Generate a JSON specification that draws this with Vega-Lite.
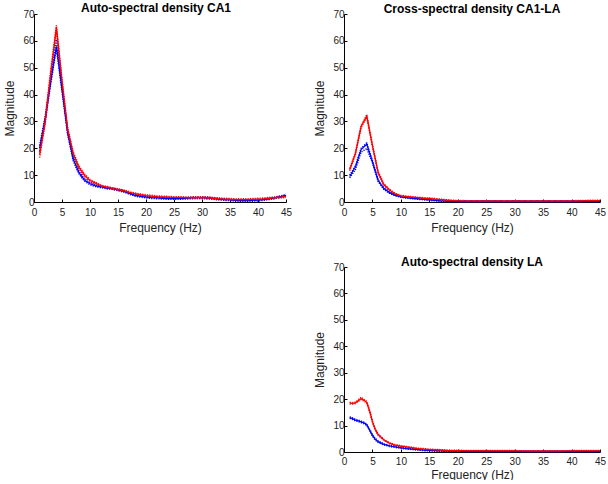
{
 "$schema": "https://vega.github.io/schema/vega-lite/v6.json",
 "padding": {"left": 3, "top": 2, "right": 5, "bottom": 0},
 "background": "white",
 "config": {
  "view": {"stroke": null},
  "font": "Liberation Sans",
  "axis": {"domainColor": "#000", "tickColor": "#000", "tickSize": -3, "labelFontSize": 10, "labelColor": "#222", "titleFontSize": 12, "titleFontWeight": "normal", "titleColor": "#222", "grid": false, "labelPadding": 3, "labelFlush": false, "labelOverlap": false},
  "axisX": {"titlePadding": 5, "labelPadding": 8},
  "axisY": {"titlePadding": 6},
  "title": {"fontSize": 12, "fontWeight": "bold", "color": "#000", "offset": 0},
  "line": {"strokeWidth": 1.3}
 },
 "datasets": {
  "ca1": [
   {"f":1,"g":"blue","m":20,"lo":19,"hi":21},{"f":1,"g":"red","m":17.5,"lo":16.5,"hi":18.5},
   {"f":2,"g":"blue","m":31,"lo":30,"hi":32},{"f":2,"g":"red","m":30,"lo":29,"hi":31},
   {"f":3,"g":"blue","m":45,"lo":44,"hi":46.5},{"f":3,"g":"red","m":48,"lo":47,"hi":49.5},
   {"f":4,"g":"blue","m":58,"lo":57,"hi":60.5},{"f":4,"g":"red","m":65,"lo":64,"hi":65.8},
   {"f":5,"g":"blue","m":42,"lo":41,"hi":43},{"f":5,"g":"red","m":45,"lo":44,"hi":46},
   {"f":6,"g":"blue","m":26,"lo":25,"hi":27},{"f":6,"g":"red","m":27,"lo":26,"hi":28},
   {"f":7,"g":"blue","m":16,"lo":15.3,"hi":16.8},{"f":7,"g":"red","m":18,"lo":17.3,"hi":18.7},
   {"f":8,"g":"blue","m":11,"lo":10.5,"hi":11.6},{"f":8,"g":"red","m":13,"lo":12.4,"hi":13.6},
   {"f":9,"g":"blue","m":8.2,"lo":7.8,"hi":8.7},{"f":9,"g":"red","m":10,"lo":9.5,"hi":10.5},
   {"f":10,"g":"blue","m":6.8,"lo":6.4,"hi":7.2},{"f":10,"g":"red","m":8,"lo":7.6,"hi":8.4},
   {"f":11,"g":"blue","m":6,"lo":5.7,"hi":6.3},{"f":11,"g":"red","m":7,"lo":6.7,"hi":7.3},
   {"f":12,"g":"blue","m":5.6,"lo":5.3,"hi":5.9},{"f":12,"g":"red","m":6,"lo":5.7,"hi":6.3},
   {"f":13,"g":"blue","m":5.2,"lo":4.9,"hi":5.5},{"f":13,"g":"red","m":5.5,"lo":5.2,"hi":5.8},
   {"f":14,"g":"blue","m":5,"lo":4.7,"hi":5.3},{"f":14,"g":"red","m":5,"lo":4.7,"hi":5.3},
   {"f":15,"g":"blue","m":4.5,"lo":4.2,"hi":4.8},{"f":15,"g":"red","m":4.6,"lo":4.3,"hi":4.9},
   {"f":16,"g":"blue","m":4,"lo":3.7,"hi":4.3},{"f":16,"g":"red","m":4.2,"lo":3.9,"hi":4.5},
   {"f":17,"g":"blue","m":3.2,"lo":2.9,"hi":3.5},{"f":17,"g":"red","m":3.6,"lo":3.3,"hi":3.9},
   {"f":18,"g":"blue","m":2.5,"lo":2.2,"hi":2.8},{"f":18,"g":"red","m":3.1,"lo":2.8,"hi":3.4},
   {"f":19,"g":"blue","m":2.1,"lo":1.8,"hi":2.4},{"f":19,"g":"red","m":2.7,"lo":2.4,"hi":3},
   {"f":20,"g":"blue","m":1.8,"lo":1.5,"hi":2.1},{"f":20,"g":"red","m":2.4,"lo":2.1,"hi":2.7},
   {"f":21,"g":"blue","m":1.6,"lo":1.3,"hi":1.9},{"f":21,"g":"red","m":2.2,"lo":1.9,"hi":2.5},
   {"f":22,"g":"blue","m":1.5,"lo":1.2,"hi":1.8},{"f":22,"g":"red","m":2,"lo":1.7,"hi":2.3},
   {"f":23,"g":"blue","m":1.4,"lo":1.1,"hi":1.7},{"f":23,"g":"red","m":1.9,"lo":1.6,"hi":2.2},
   {"f":24,"g":"blue","m":1.3,"lo":1,"hi":1.6},{"f":24,"g":"red","m":1.8,"lo":1.5,"hi":2.1},
   {"f":25,"g":"blue","m":1.3,"lo":1,"hi":1.6},{"f":25,"g":"red","m":1.7,"lo":1.4,"hi":2},
   {"f":26,"g":"blue","m":1.3,"lo":1,"hi":1.6},{"f":26,"g":"red","m":1.7,"lo":1.4,"hi":2},
   {"f":27,"g":"blue","m":1.4,"lo":1.1,"hi":1.7},{"f":27,"g":"red","m":1.6,"lo":1.3,"hi":1.9},
   {"f":28,"g":"blue","m":1.5,"lo":1.2,"hi":1.8},{"f":28,"g":"red","m":1.6,"lo":1.3,"hi":1.9},
   {"f":29,"g":"blue","m":1.6,"lo":1.3,"hi":1.9},{"f":29,"g":"red","m":1.6,"lo":1.3,"hi":2},
   {"f":30,"g":"blue","m":1.6,"lo":1.3,"hi":1.9},{"f":30,"g":"red","m":1.6,"lo":1.3,"hi":2},
   {"f":31,"g":"blue","m":1.5,"lo":1.2,"hi":1.8},{"f":31,"g":"red","m":1.5,"lo":1.2,"hi":1.9},
   {"f":32,"g":"blue","m":1.3,"lo":1,"hi":1.6},{"f":32,"g":"red","m":1.4,"lo":1.1,"hi":1.7},
   {"f":33,"g":"blue","m":1.1,"lo":0.8,"hi":1.4},{"f":33,"g":"red","m":1.2,"lo":0.9,"hi":1.5},
   {"f":34,"g":"blue","m":0.9,"lo":0.6,"hi":1.2},{"f":34,"g":"red","m":1.1,"lo":0.8,"hi":1.4},
   {"f":35,"g":"blue","m":0.8,"lo":0.5,"hi":1.1},{"f":35,"g":"red","m":1,"lo":0.7,"hi":1.3},
   {"f":36,"g":"blue","m":0.6,"lo":0.3,"hi":0.9},{"f":36,"g":"red","m":0.9,"lo":0.6,"hi":1.2},
   {"f":37,"g":"blue","m":0.5,"lo":0.2,"hi":0.8},{"f":37,"g":"red","m":0.9,"lo":0.6,"hi":1.2},
   {"f":38,"g":"blue","m":0.5,"lo":0.2,"hi":0.8},{"f":38,"g":"red","m":0.9,"lo":0.6,"hi":1.2},
   {"f":39,"g":"blue","m":0.6,"lo":0.3,"hi":0.9},{"f":39,"g":"red","m":1,"lo":0.7,"hi":1.3},
   {"f":40,"g":"blue","m":0.7,"lo":0.4,"hi":1},{"f":40,"g":"red","m":1.1,"lo":0.8,"hi":1.4},
   {"f":41,"g":"blue","m":0.9,"lo":0.6,"hi":1.2},{"f":41,"g":"red","m":1.2,"lo":0.9,"hi":1.5},
   {"f":42,"g":"blue","m":1.2,"lo":0.9,"hi":1.5},{"f":42,"g":"red","m":1.4,"lo":1.1,"hi":1.7},
   {"f":43,"g":"blue","m":1.5,"lo":1.2,"hi":1.8},{"f":43,"g":"red","m":1.6,"lo":1.3,"hi":1.9},
   {"f":44,"g":"blue","m":2,"lo":1.7,"hi":2.3},{"f":44,"g":"red","m":1.8,"lo":1.5,"hi":2.1},
   {"f":45,"g":"blue","m":2.5,"lo":2.2,"hi":2.8},{"f":45,"g":"red","m":2,"lo":1.7,"hi":2.3}
  ],
  "cross": [
   {"f":1,"g":"blue","m":9.5,"lo":9,"hi":10},{"f":1,"g":"red","m":12,"lo":11.6,"hi":12.4},
   {"f":2,"g":"blue","m":13,"lo":12,"hi":13.5},{"f":2,"g":"red","m":18,"lo":17.6,"hi":18.4},
   {"f":3,"g":"blue","m":19.5,"lo":18.5,"hi":20},{"f":3,"g":"red","m":28,"lo":27.6,"hi":28.4},
   {"f":4,"g":"blue","m":21.5,"lo":20,"hi":22},{"f":4,"g":"red","m":32,"lo":31.6,"hi":32.5},
   {"f":5,"g":"blue","m":15,"lo":14.5,"hi":15.5},{"f":5,"g":"red","m":21,"lo":20.6,"hi":21.4},
   {"f":6,"g":"blue","m":8,"lo":7.6,"hi":8.4},{"f":6,"g":"red","m":11,"lo":10.6,"hi":11.4},
   {"f":7,"g":"blue","m":5,"lo":4.7,"hi":5.3},{"f":7,"g":"red","m":6.5,"lo":6.2,"hi":6.8},
   {"f":8,"g":"blue","m":3.5,"lo":3.2,"hi":3.8},{"f":8,"g":"red","m":4.5,"lo":4.2,"hi":4.8},
   {"f":9,"g":"blue","m":2.5,"lo":2.3,"hi":2.7},{"f":9,"g":"red","m":3,"lo":2.8,"hi":3.2},
   {"f":10,"g":"blue","m":1.9,"lo":1.7,"hi":2.1},{"f":10,"g":"red","m":2.3,"lo":2.1,"hi":2.5},
   {"f":11,"g":"blue","m":1.6,"lo":1.4,"hi":1.8},{"f":11,"g":"red","m":2,"lo":1.8,"hi":2.2},
   {"f":12,"g":"blue","m":1.4,"lo":1.2,"hi":1.6},{"f":12,"g":"red","m":1.8,"lo":1.6,"hi":2},
   {"f":13,"g":"blue","m":1.2,"lo":1,"hi":1.4},{"f":13,"g":"red","m":1.6,"lo":1.4,"hi":1.8},
   {"f":14,"g":"blue","m":1,"lo":0.8,"hi":1.2},{"f":14,"g":"red","m":1.4,"lo":1.2,"hi":1.6},
   {"f":15,"g":"blue","m":0.8,"lo":0.6,"hi":1},{"f":15,"g":"red","m":1.3,"lo":1.1,"hi":1.5},
   {"f":16,"g":"blue","m":0.6,"lo":0.4,"hi":0.8},{"f":16,"g":"red","m":1.1,"lo":0.9,"hi":1.3},
   {"f":17,"g":"blue","m":0.4,"lo":0.2,"hi":0.6},{"f":17,"g":"red","m":0.9,"lo":0.7,"hi":1.1},
   {"f":18,"g":"blue","m":0.3,"lo":0.1,"hi":0.5},{"f":18,"g":"red","m":0.7,"lo":0.5,"hi":0.9},
   {"f":19,"g":"blue","m":0.2,"lo":0.1,"hi":0.4},{"f":19,"g":"red","m":0.5,"lo":0.3,"hi":0.7},
   {"f":20,"g":"blue","m":0.2,"lo":0.1,"hi":0.4},{"f":20,"g":"red","m":0.4,"lo":0.2,"hi":0.6},
   {"f":22,"g":"blue","m":0.2,"lo":0.1,"hi":0.4},{"f":22,"g":"red","m":0.3,"lo":0.2,"hi":0.5},
   {"f":25,"g":"blue","m":0.2,"lo":0.1,"hi":0.4},{"f":25,"g":"red","m":0.3,"lo":0.2,"hi":0.5},
   {"f":28,"g":"blue","m":0.2,"lo":0.1,"hi":0.4},{"f":28,"g":"red","m":0.3,"lo":0.2,"hi":0.5},
   {"f":30,"g":"blue","m":0.2,"lo":0.1,"hi":0.4},{"f":30,"g":"red","m":0.3,"lo":0.2,"hi":0.5},
   {"f":32,"g":"blue","m":0.2,"lo":0.1,"hi":0.4},{"f":32,"g":"red","m":0.3,"lo":0.2,"hi":0.5},
   {"f":35,"g":"blue","m":0.2,"lo":0.1,"hi":0.4},{"f":35,"g":"red","m":0.3,"lo":0.2,"hi":0.5},
   {"f":38,"g":"blue","m":0.2,"lo":0.1,"hi":0.4},{"f":38,"g":"red","m":0.3,"lo":0.2,"hi":0.5},
   {"f":40,"g":"blue","m":0.2,"lo":0.1,"hi":0.4},{"f":40,"g":"red","m":0.3,"lo":0.2,"hi":0.5},
   {"f":42,"g":"blue","m":0.2,"lo":0.1,"hi":0.4},{"f":42,"g":"red","m":0.4,"lo":0.2,"hi":0.6},
   {"f":45,"g":"blue","m":0.2,"lo":0.1,"hi":0.4},{"f":45,"g":"red","m":0.5,"lo":0.3,"hi":0.7}
  ],
  "la": [
   {"f":1,"g":"blue","m":13,"lo":12.7,"hi":13.3},{"f":1,"g":"red","m":18.5,"lo":18.2,"hi":18.8},
   {"f":1.5,"g":"blue","m":12.6,"lo":12.3,"hi":12.9},{"f":1.5,"g":"red","m":18.4,"lo":18.1,"hi":18.7},
   {"f":2,"g":"blue","m":12.1,"lo":11.8,"hi":12.4},{"f":2,"g":"red","m":18.6,"lo":18.3,"hi":18.9},
   {"f":2.5,"g":"blue","m":11.8,"lo":11.5,"hi":12.1},{"f":2.5,"g":"red","m":19.4,"lo":19.1,"hi":19.7},
   {"f":3,"g":"blue","m":11.4,"lo":11.1,"hi":11.7},{"f":3,"g":"red","m":20.2,"lo":19.8,"hi":20.8},
   {"f":3.5,"g":"blue","m":11,"lo":10.7,"hi":11.3},{"f":3.5,"g":"red","m":19.6,"lo":19.3,"hi":19.9},
   {"f":4,"g":"blue","m":10.3,"lo":10,"hi":10.6},{"f":4,"g":"red","m":18.8,"lo":18.5,"hi":19.1},
   {"f":4.5,"g":"blue","m":8.3,"lo":8,"hi":8.6},{"f":4.5,"g":"red","m":15.5,"lo":15.2,"hi":15.8},
   {"f":5,"g":"blue","m":6.3,"lo":6,"hi":6.6},{"f":5,"g":"red","m":11.5,"lo":11.2,"hi":11.8},
   {"f":5.5,"g":"blue","m":4.8,"lo":4.5,"hi":5.1},{"f":5.5,"g":"red","m":8.5,"lo":8.2,"hi":8.8},
   {"f":6,"g":"blue","m":3.9,"lo":3.6,"hi":4.2},{"f":6,"g":"red","m":6.6,"lo":6.3,"hi":6.9},
   {"f":7,"g":"blue","m":2.9,"lo":2.7,"hi":3.1},{"f":7,"g":"red","m":4.6,"lo":4.4,"hi":4.8},
   {"f":8,"g":"blue","m":2.3,"lo":2.1,"hi":2.5},{"f":8,"g":"red","m":3.3,"lo":3.1,"hi":3.5},
   {"f":9,"g":"blue","m":1.9,"lo":1.7,"hi":2.1},{"f":9,"g":"red","m":2.6,"lo":2.4,"hi":2.8},
   {"f":10,"g":"blue","m":1.6,"lo":1.4,"hi":1.8},{"f":10,"g":"red","m":2.2,"lo":2,"hi":2.4},
   {"f":11,"g":"blue","m":1.3,"lo":1.1,"hi":1.5},{"f":11,"g":"red","m":1.9,"lo":1.7,"hi":2.1},
   {"f":12,"g":"blue","m":1.1,"lo":0.9,"hi":1.3},{"f":12,"g":"red","m":1.6,"lo":1.4,"hi":1.8},
   {"f":13,"g":"blue","m":0.9,"lo":0.7,"hi":1.1},{"f":13,"g":"red","m":1.3,"lo":1.1,"hi":1.5},
   {"f":14,"g":"blue","m":0.7,"lo":0.5,"hi":0.9},{"f":14,"g":"red","m":1.1,"lo":0.9,"hi":1.3},
   {"f":15,"g":"blue","m":0.6,"lo":0.4,"hi":0.8},{"f":15,"g":"red","m":0.9,"lo":0.7,"hi":1.1},
   {"f":16,"g":"blue","m":0.5,"lo":0.3,"hi":0.7},{"f":16,"g":"red","m":0.8,"lo":0.6,"hi":1},
   {"f":17,"g":"blue","m":0.4,"lo":0.2,"hi":0.6},{"f":17,"g":"red","m":0.7,"lo":0.5,"hi":0.9},
   {"f":18,"g":"blue","m":0.35,"lo":0.2,"hi":0.5},{"f":18,"g":"red","m":0.6,"lo":0.4,"hi":0.8},
   {"f":19,"g":"blue","m":0.3,"lo":0.15,"hi":0.45},{"f":19,"g":"red","m":0.55,"lo":0.4,"hi":0.7},
   {"f":20,"g":"blue","m":0.3,"lo":0.15,"hi":0.45},{"f":20,"g":"red","m":0.5,"lo":0.35,"hi":0.65},
   {"f":22,"g":"blue","m":0.25,"lo":0.1,"hi":0.4},{"f":22,"g":"red","m":0.45,"lo":0.3,"hi":0.6},
   {"f":25,"g":"blue","m":0.2,"lo":0.1,"hi":0.35},{"f":25,"g":"red","m":0.4,"lo":0.25,"hi":0.55},
   {"f":28,"g":"blue","m":0.2,"lo":0.1,"hi":0.35},{"f":28,"g":"red","m":0.45,"lo":0.3,"hi":0.6},
   {"f":30,"g":"blue","m":0.2,"lo":0.1,"hi":0.35},{"f":30,"g":"red","m":0.4,"lo":0.25,"hi":0.55},
   {"f":32,"g":"blue","m":0.2,"lo":0.1,"hi":0.35},{"f":32,"g":"red","m":0.35,"lo":0.2,"hi":0.5},
   {"f":35,"g":"blue","m":0.2,"lo":0.1,"hi":0.35},{"f":35,"g":"red","m":0.35,"lo":0.2,"hi":0.5},
   {"f":38,"g":"blue","m":0.2,"lo":0.1,"hi":0.35},{"f":38,"g":"red","m":0.35,"lo":0.2,"hi":0.5},
   {"f":40,"g":"blue","m":0.2,"lo":0.1,"hi":0.35},{"f":40,"g":"red","m":0.4,"lo":0.25,"hi":0.55},
   {"f":42,"g":"blue","m":0.2,"lo":0.1,"hi":0.35},{"f":42,"g":"red","m":0.4,"lo":0.25,"hi":0.55},
   {"f":45,"g":"blue","m":0.2,"lo":0.1,"hi":0.35},{"f":45,"g":"red","m":0.4,"lo":0.25,"hi":0.55}
  ]
 },
 "spacing": 21,
 "hconcat": [
  {
   "title": {"text": "Auto-spectral density CA1", "dx": -4, "offset": -6},
   "width": 252, "height": 188,
   "data": {"name": "ca1"},
   "encoding": {
    "x": {"field": "f", "type": "quantitative", "scale": {"domain": [0, 45], "nice": false}, "axis": {"values": [0,5,10,15,20,25,30,35,40,45], "title": "Frequency (Hz)"}},
    "color": {"field": "g", "type": "nominal", "scale": {"domain": ["blue","red"], "range": ["#0000ff","#ff0000"]}, "legend": null}
   },
   "layer": [
    {"mark": {"type": "line", "strokeDash": [1.2,1.2], "strokeWidth": 1.4}, "encoding": {"y": {"field": "lo", "type": "quantitative", "scale": {"domain": [0,70], "nice": false}, "axis": {"values": [0,10,20,30,40,50,60,70], "title": "Magnitude"}}}},
    {"mark": {"type": "line", "strokeDash": [1.2,1.2], "strokeWidth": 1.4}, "encoding": {"y": {"field": "hi", "type": "quantitative", "scale": {"domain": [0,70], "nice": false}, "axis": {"values": [0,10,20,30,40,50,60,70], "title": "Magnitude"}}}},
    {"mark": {"type": "line"}, "encoding": {"y": {"field": "m", "type": "quantitative", "scale": {"domain": [0,70], "nice": false}, "axis": {"values": [0,10,20,30,40,50,60,70], "title": "Magnitude"}}}}
   ]
  },
  {
   "spacing": 23,
   "vconcat": [
    {
     "title": {"text": "Cross-spectral density CA1-LA", "offset": -7},
     "width": 256, "height": 188,
     "data": {"name": "cross"},
     "encoding": {
      "x": {"field": "f", "type": "quantitative", "scale": {"domain": [0, 45], "nice": false}, "axis": {"values": [0,5,10,15,20,25,30,35,40,45], "title": "Frequency (Hz)"}},
      "color": {"field": "g", "type": "nominal", "scale": {"domain": ["blue","red"], "range": ["#0000ff","#ff0000"]}, "legend": null}
     },
     "layer": [
      {"mark": {"type": "line", "strokeDash": [1.2,1.2], "strokeWidth": 1.4}, "encoding": {"y": {"field": "lo", "type": "quantitative", "scale": {"domain": [0,70], "nice": false}, "axis": {"values": [0,10,20,30,40,50,60,70], "title": "Magnitude"}}}},
      {"mark": {"type": "line", "strokeDash": [1.2,1.2], "strokeWidth": 1.4}, "encoding": {"y": {"field": "hi", "type": "quantitative", "scale": {"domain": [0,70], "nice": false}, "axis": {"values": [0,10,20,30,40,50,60,70], "title": "Magnitude"}}}},
      {"mark": {"type": "line"}, "encoding": {"y": {"field": "m", "type": "quantitative", "scale": {"domain": [0,70], "nice": false}, "axis": {"values": [0,10,20,30,40,50,60,70], "title": "Magnitude"}}}}
     ]
    },
    {
     "title": {"text": "Auto-spectral density LA", "offset": -7},
     "width": 256, "height": 185,
     "data": {"name": "la"},
     "encoding": {
      "x": {"field": "f", "type": "quantitative", "scale": {"domain": [0, 45], "nice": false}, "axis": {"values": [0,5,10,15,20,25,30,35,40,45], "title": "Frequency (Hz)", "labelPadding": 7, "titlePadding": 3}},
      "color": {"field": "g", "type": "nominal", "scale": {"domain": ["blue","red"], "range": ["#0000ff","#ff0000"]}, "legend": null}
     },
     "layer": [
      {"mark": {"type": "line", "strokeDash": [1.2,1.2], "strokeWidth": 1.4}, "encoding": {"y": {"field": "lo", "type": "quantitative", "scale": {"domain": [0,70], "nice": false}, "axis": {"values": [0,10,20,30,40,50,60,70], "title": "Magnitude"}}}},
      {"mark": {"type": "line", "strokeDash": [1.2,1.2], "strokeWidth": 1.4}, "encoding": {"y": {"field": "hi", "type": "quantitative", "scale": {"domain": [0,70], "nice": false}, "axis": {"values": [0,10,20,30,40,50,60,70], "title": "Magnitude"}}}},
      {"mark": {"type": "line"}, "encoding": {"y": {"field": "m", "type": "quantitative", "scale": {"domain": [0,70], "nice": false}, "axis": {"values": [0,10,20,30,40,50,60,70], "title": "Magnitude"}}}}
     ]
    }
   ]
  }
 ]
}
